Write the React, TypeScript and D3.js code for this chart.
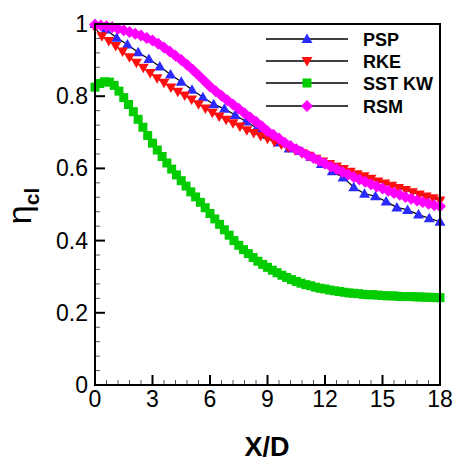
import React from "react";
import * as d3 from "d3";

const W = 454;
const H = 462;
const M = { left: 95, top: 24, right: 440, bottom: 385 };

const xTicks = [0, 3, 6, 9, 12, 15, 18];
const yTicks = [0, 0.2, 0.4, 0.6, 0.8, 1];
const yTickLabels = ["0", "0.2", "0.4", "0.6", "0.8", "1"];

const pspX = [0, 0.56, 1.13, 1.69, 2.25, 2.81, 3.38, 3.94, 4.5, 5.06, 5.63, 6.19, 6.75, 7.31, 7.88, 8.44, 9, 9.56, 10.13, 10.69, 11.25, 11.81, 12.38, 12.94, 13.5, 14.06, 14.63, 15.19, 15.75, 16.31, 16.88, 17.44, 18];
const pspY = [1.0, 0.985, 0.962, 0.943, 0.922, 0.903, 0.882, 0.86, 0.84, 0.818, 0.797, 0.778, 0.765, 0.748, 0.73, 0.712, 0.693, 0.672, 0.655, 0.648, 0.632, 0.612, 0.592, 0.575, 0.548, 0.53, 0.523, 0.508, 0.492, 0.485, 0.472, 0.462, 0.452];

const rkeX = [0, 0.36, 0.72, 1.08, 1.44, 1.8, 2.16, 2.52, 2.88, 3.24, 3.6, 3.96, 4.32, 4.68, 5.04, 5.4, 5.76, 6.12, 6.48, 6.84, 7.2, 7.56, 7.92, 8.28, 8.64, 9, 9.36, 9.72, 10.08, 10.44, 10.8, 11.16, 11.52, 11.88, 12.24, 12.6, 12.96, 13.32, 13.68, 14.04, 14.4, 14.76, 15.12, 15.48, 15.84, 16.2, 16.56, 16.92, 17.28, 17.64, 18];
const rkeY = [0.99, 0.966, 0.953, 0.939, 0.924, 0.908, 0.893, 0.879, 0.864, 0.85, 0.837, 0.824, 0.812, 0.802, 0.791, 0.778, 0.766, 0.754, 0.744, 0.735, 0.725, 0.716, 0.706, 0.698, 0.69, 0.682, 0.674, 0.666, 0.658, 0.65, 0.642, 0.635, 0.627, 0.619, 0.612, 0.605, 0.598, 0.591, 0.584, 0.578, 0.571, 0.564, 0.558, 0.552, 0.546, 0.54, 0.534, 0.528, 0.522, 0.517, 0.511];

const sstX = [0, 0.25, 0.5, 0.75, 1, 1.25, 1.5, 1.75, 2, 2.25, 2.5, 2.75, 3, 3.25, 3.5, 3.75, 4, 4.25, 4.5, 4.75, 5, 5.25, 5.5, 5.75, 6, 6.25, 6.5, 6.75, 7, 7.25, 7.5, 7.75, 8, 8.25, 8.5, 8.75, 9, 9.25, 9.5, 9.75, 10, 10.25, 10.5, 10.75, 11, 11.25, 11.5, 11.75, 12, 12.25, 12.5, 12.75, 13, 13.25, 13.5, 13.75, 14, 14.25, 14.5, 14.75, 15, 15.25, 15.5, 15.75, 16, 16.25, 16.5, 16.75, 17, 17.25, 17.5, 17.75, 18];
const sstY = [0.825, 0.835, 0.84, 0.839, 0.83, 0.814, 0.796, 0.777, 0.757, 0.736, 0.714, 0.691, 0.67, 0.651, 0.633, 0.615, 0.598, 0.582, 0.566, 0.551, 0.535, 0.521, 0.506, 0.491, 0.475, 0.46, 0.445, 0.43, 0.415, 0.4, 0.387, 0.375, 0.364, 0.353, 0.343, 0.334, 0.326, 0.318, 0.311, 0.304, 0.298, 0.292, 0.287, 0.282, 0.278, 0.275, 0.271, 0.268, 0.266, 0.263, 0.261, 0.259, 0.257, 0.255, 0.254, 0.253, 0.251, 0.25, 0.25, 0.249, 0.248, 0.247, 0.247, 0.246, 0.245, 0.245, 0.245, 0.244, 0.244, 0.243, 0.243, 0.242, 0.242];

const rsmX = [0, 0.3, 0.6, 0.9, 1.2, 1.5, 1.8, 2.1, 2.4, 2.7, 3, 3.3, 3.6, 3.9, 4.2, 4.5, 4.8, 5.1, 5.4, 5.7, 6, 6.3, 6.6, 6.9, 7.2, 7.5, 7.8, 8.1, 8.4, 8.7, 9, 9.3, 9.6, 9.9, 10.2, 10.5, 10.8, 11.1, 11.4, 11.7, 12, 12.3, 12.6, 12.9, 13.2, 13.5, 13.8, 14.1, 14.4, 14.7, 15, 15.3, 15.6, 15.9, 16.2, 16.5, 16.8, 17.1, 17.4, 17.7, 18];
const rsmY = [0.998, 0.996, 0.994, 0.991, 0.987, 0.983, 0.978, 0.973, 0.968, 0.961, 0.954, 0.945, 0.935, 0.924, 0.912, 0.9, 0.887, 0.873, 0.858, 0.843, 0.827, 0.814, 0.801, 0.789, 0.777, 0.765, 0.753, 0.741, 0.729, 0.717, 0.703, 0.693, 0.683, 0.671, 0.662, 0.653, 0.645, 0.636, 0.629, 0.621, 0.613, 0.605, 0.598, 0.59, 0.583, 0.576, 0.569, 0.563, 0.556, 0.55, 0.544, 0.538, 0.532, 0.527, 0.521, 0.516, 0.511, 0.507, 0.502, 0.498, 0.495];

const seriesNames = ["PSP", "RKE", "SST KW", "RSM"];
const seriesColors = ["#2b2bff", "#ff1010", "#00cc00", "#ff00ff"];
const seriesShapes = ["up", "down", "square", "diamond"];

const FONT = "'Liberation Sans', Arial, sans-serif";

function markerPath(shape: string, x: number, y: number): string {
  if (shape === "up") return `M${x},${y - 5.5}L${x + 5.5},${y + 4}L${x - 5.5},${y + 4}Z`;
  if (shape === "down") return `M${x},${y + 5.5}L${x + 5.5},${y - 4}L${x - 5.5},${y - 4}Z`;
  if (shape === "square") return `M${x - 4.5},${y - 4.5}h9v9h-9Z`;
  return `M${x},${y - 6}L${x + 6},${y}L${x},${y + 6}L${x - 6},${y}Z`;
}

export default function App() {
  const x = d3.scaleLinear().domain([0, 18]).range([M.left, M.right]);
  const y = d3.scaleLinear().domain([0, 1]).range([M.bottom, M.top]);

  const data = [
    pspX.map((v, i) => [v, pspY[i]]),
    rkeX.map((v, i) => [v, rkeY[i]]),
    sstX.map((v, i) => [v, sstY[i]]),
    rsmX.map((v, i) => [v, rsmY[i]]),
  ];

  const line = d3
    .line<number[]>()
    .x((d) => x(d[0]))
    .y((d) => y(d[1]));

  const xMinor = d3.range(0, 18.001, 0.6).filter((v) => Math.abs(v / 3 - Math.round(v / 3)) > 1e-6);
  const yMinor = d3.range(0, 1.0001, 0.04).filter((v) => Math.abs(v / 0.2 - Math.round(v / 0.2)) > 1e-6);

  const legendY = [39, 61, 83, 106];

  return (
    <svg
      width={W}
      height={H}
      style={{ position: "absolute", left: 0, top: 0, background: "#fff" }}
      fontFamily={FONT}
    >
      <rect x={0} y={0} width={W} height={H} fill="#fff" />
      <defs>
        <clipPath id="plotclip">
          <rect x={M.left - 8} y={M.top - 8} width={M.right - M.left + 16} height={M.bottom - M.top + 16} />
        </clipPath>
      </defs>

      {/* ticks */}
      {xTicks.map((t) => (
        <line key={"xt" + t} x1={x(t)} x2={x(t)} y1={M.bottom} y2={M.bottom - 10} stroke="#000" strokeWidth={2} />
      ))}
      {xMinor.map((t, i) => (
        <line key={"xm" + i} x1={x(t)} x2={x(t)} y1={M.bottom} y2={M.bottom - 5} stroke="#555" strokeWidth={1} />
      ))}
      {yTicks.map((t) => (
        <line key={"yt" + t} x1={M.left} x2={M.left + 10} y1={y(t)} y2={y(t)} stroke="#000" strokeWidth={2} />
      ))}
      {yMinor.map((t, i) => (
        <line key={"ym" + i} x1={M.left} x2={M.left + 5} y1={y(t)} y2={y(t)} stroke="#555" strokeWidth={1} />
      ))}

      {/* tick labels */}
      {xTicks.map((t) => (
        <text key={"xl" + t} x={x(t)} y={M.bottom + 22} fontSize={23} textAnchor="middle">
          {String(t)}
        </text>
      ))}
      {yTicks.map((t, i) => (
        <text key={"yl" + t} x={M.left - 7} y={y(t) + 8} fontSize={23} textAnchor="end">
          {yTickLabels[i]}
        </text>
      ))}

      {/* axis titles */}
      <text x={267} y={456} fontSize={27} fontWeight="bold" textAnchor="middle">
        X/D
      </text>
      <text transform="translate(31,206) rotate(-90)" textAnchor="middle">
        <tspan fontSize={34}>η</tspan>
        <tspan fontSize={21} fontWeight="bold" dy={8}>
          cl
        </tspan>
      </text>

      {/* series */}
      <g clipPath="url(#plotclip)">
        {data.map((pts, si) => (
          <g key={"s" + si}>
            <path d={line(pts) || ""} fill="none" stroke="#000" strokeWidth={1.2} />
            {pts.map((p, i) => (
              <path key={i} d={markerPath(seriesShapes[si], x(p[0]), y(p[1]))} fill={seriesColors[si]} />
            ))}
          </g>
        ))}
      </g>

      {/* frame */}
      <rect x={M.left} y={M.top} width={M.right - M.left} height={M.bottom - M.top} fill="none" stroke="#000" strokeWidth={2} />

      {/* legend */}
      {seriesNames.map((name, i) => (
        <g key={"lg" + i}>
          <line x1={266} x2={348} y1={legendY[i]} y2={legendY[i]} stroke="#000" strokeWidth={1.5} />
          <path d={markerPath(seriesShapes[i], 307, legendY[i])} fill={seriesColors[i]} />
          <text x={363} y={legendY[i] + 6.5} fontSize={18} fontWeight="bold">
            {name}
          </text>
        </g>
      ))}
    </svg>
  );
}
